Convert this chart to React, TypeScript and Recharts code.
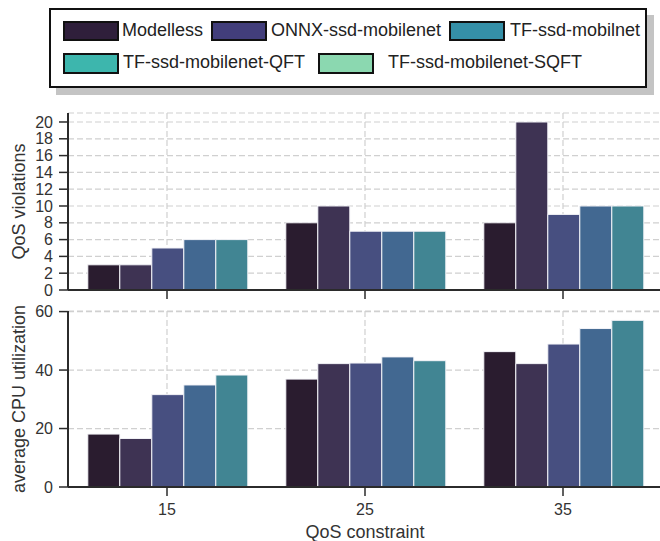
import React from 'react';
import { BarChart, Bar, XAxis, YAxis, CartesianGrid } from 'recharts';

// ---------- data ----------
const categories = ['15', '25', '35'];
const seriesNames = [
  'Modelless',
  'ONNX-ssd-mobilenet',
  'TF-ssd-mobilnet',
  'TF-ssd-mobilenet-QFT',
  'TF-ssd-mobilenet-SQFT',
];

const violationsModelless = [3, 8, 8];
const violationsOnnx = [3, 10, 20];
const violationsTf = [5, 7, 9];
const violationsQft = [6, 7, 10];
const violationsSqft = [6, 7, 10];

const cpuModelless = [18.1, 36.9, 46.3];
const cpuOnnx = [16.6, 42.2, 42.2];
const cpuTf = [31.6, 42.4, 48.9];
const cpuQft = [34.9, 44.5, 54.2];
const cpuSqft = [38.3, 43.2, 57.0];

const violationTicks = [0, 2, 4, 6, 8, 10, 12, 14, 16, 18, 20];
const cpuTicks = [0, 20, 40, 60];

// ---------- styles ----------
const FONT = '"Liberation Sans", Arial, Helvetica, sans-serif';
const AX = '#2b2b2b';
const TXT = '#333333';
const GRID = '#d0d0d0';
const barColors = ['#2a1c2f', '#3e3353', '#474f80', '#426891', '#418593'];
const legendColors = ['#2f1f3b', '#423e7b', '#3590a8', '#3db6ad', '#8bd8b0'];
const keys = ['s0', 's1', 's2', 's3', 's4'];

const violationSeries = [violationsModelless, violationsOnnx, violationsTf, violationsQft, violationsSqft];
const cpuSeries = [cpuModelless, cpuOnnx, cpuTf, cpuQft, cpuSqft];

const buildRows = (series: number[][]) =>
  categories.map((c, i) => {
    const row: Record<string, string | number> = { qos: c };
    series.forEach((s, k) => {
      row[keys[k]] = s[i];
    });
    return row;
  });

const violationsData = buildRows(violationSeries);
const cpuData = buildRows(cpuSeries);

// legend layout (page coordinates)
const legendLayout = [
  { left: 63, top: 20.7, h: 20, textLeft: 122, textTop: 20.2 },
  { left: 211, top: 20.7, h: 20, textLeft: 271, textTop: 20.2 },
  { left: 449, top: 20.7, h: 20, textLeft: 510, textTop: 20.2 },
  { left: 63, top: 53.3, h: 20.7, textLeft: 123, textTop: 51.8 },
  { left: 318, top: 53.3, h: 20.7, textLeft: 388, textTop: 51.8 },
];

const tickStyle = { fill: TXT, fontSize: 16, fontFamily: FONT };

const renderBars = () =>
  keys.map((k, i) => (
    <Bar
      key={k}
      dataKey={k}
      name={seriesNames[i]}
      fill={barColors[i]}
      stroke="#f4f4f8"
      strokeWidth={1}
      isAnimationActive={false}
    />
  ));

const yTitle = (text: string, cy: number) => () =>
  (
    <text
      x={19}
      y={cy}
      transform={`rotate(-90, 19, ${cy})`}
      textAnchor="middle"
      dominantBaseline="central"
      fill={TXT}
      fontSize={18}
      fontFamily={FONT}
    >
      {text}
    </text>
  );

function TopChart() {
  return (
    <BarChart
      width={662}
      height={200}
      data={violationsData}
      margin={{ top: 13, right: 0, bottom: 0, left: 0 }}
      barCategoryGap="10%"
      barGap={0}
    >
      <CartesianGrid stroke={GRID} strokeDasharray="6 3" strokeWidth={1.2} />
      <XAxis
        dataKey="qos"
        height={10}
        tickSize={9}
        tickFormatter={() => ''}
        axisLine={{ stroke: AX, strokeWidth: 2 }}
        tickLine={{ stroke: AX, strokeWidth: 1.5 }}
      />
      <XAxis
        xAxisId="top"
        dataKey="qos"
        orientation="top"
        height={0}
        tick={false}
        tickLine={false}
        axisLine={{ stroke: AX, strokeWidth: 2 }}
      />
      <YAxis
        width={68}
        type="number"
        domain={[0, 21.07]}
        ticks={violationTicks}
        interval={0}
        tickSize={9}
        tickMargin={6}
        tick={tickStyle}
        axisLine={{ stroke: AX, strokeWidth: 2 }}
        tickLine={{ stroke: AX, strokeWidth: 1.5 }}
        label={{ content: yTitle('QoS violations', 101.5) }}
      />
      {renderBars()}
    </BarChart>
  );
}

function BottomChart() {
  return (
    <BarChart
      width={662}
      height={241}
      data={cpuData}
      margin={{ top: 11, right: 0, bottom: 0, left: 0 }}
      barCategoryGap="10%"
      barGap={0}
    >
      <CartesianGrid stroke={GRID} strokeDasharray="6 3" strokeWidth={1.2} />
      <XAxis
        dataKey="qos"
        height={54}
        tickSize={9}
        tickMargin={8}
        tick={tickStyle}
        axisLine={{ stroke: AX, strokeWidth: 2 }}
        tickLine={{ stroke: AX, strokeWidth: 1.5 }}
        label={{
          content: () => (
            <text x={365} y={238} textAnchor="middle" fill={TXT} fontSize={18} fontFamily={FONT}>
              QoS constraint
            </text>
          ),
        }}
      />
      <XAxis
        xAxisId="top"
        dataKey="qos"
        orientation="top"
        height={0}
        tick={false}
        tickLine={false}
        axisLine={{ stroke: AX, strokeWidth: 2 }}
      />
      <YAxis
        width={68}
        type="number"
        domain={[0, 60.2]}
        ticks={cpuTicks}
        interval={0}
        tickSize={9}
        tickMargin={6}
        tick={tickStyle}
        axisLine={{ stroke: AX, strokeWidth: 2 }}
        tickLine={{ stroke: AX, strokeWidth: 1.5 }}
        label={{ content: yTitle('average CPU utilization', 99) }}
      />
      {renderBars()}
    </BarChart>
  );
}

function Legend() {
  return (
    <>
      <div
        style={{
          position: 'absolute',
          left: 49,
          top: 8,
          width: 598,
          height: 80,
          boxSizing: 'border-box',
          border: '2px solid #111',
          background: '#fff',
          boxShadow: '7px 7px 0 #c4c4c4',
        }}
      />
      {seriesNames.map((name, i) => {
        const p = legendLayout[i];
        return (
          <React.Fragment key={name}>
            <div
              style={{
                position: 'absolute',
                left: p.left,
                top: p.top,
                width: 56,
                height: p.h,
                boxSizing: 'border-box',
                border: '2px solid #111',
                background: legendColors[i],
              }}
            />
            <div
              style={{
                position: 'absolute',
                left: p.textLeft,
                top: p.textTop,
                height: 20,
                lineHeight: '20px',
                fontSize: 18,
                color: '#222',
                whiteSpace: 'nowrap',
                fontFamily: FONT,
              }}
            >
              {name}
            </div>
          </React.Fragment>
        );
      })}
    </>
  );
}

export default function App() {
  return (
    <div
      style={{
        position: 'absolute',
        left: 0,
        top: 0,
        width: 660,
        height: 541,
        overflow: 'hidden',
        background: '#fff',
        fontFamily: FONT,
      }}
    >
      <Legend />
      <div style={{ position: 'absolute', left: 0, top: 100, width: 662, height: 200 }}>
        <TopChart />
      </div>
      <div style={{ position: 'absolute', left: 0, top: 300, width: 662, height: 241 }}>
        <BottomChart />
      </div>
    </div>
  );
}
